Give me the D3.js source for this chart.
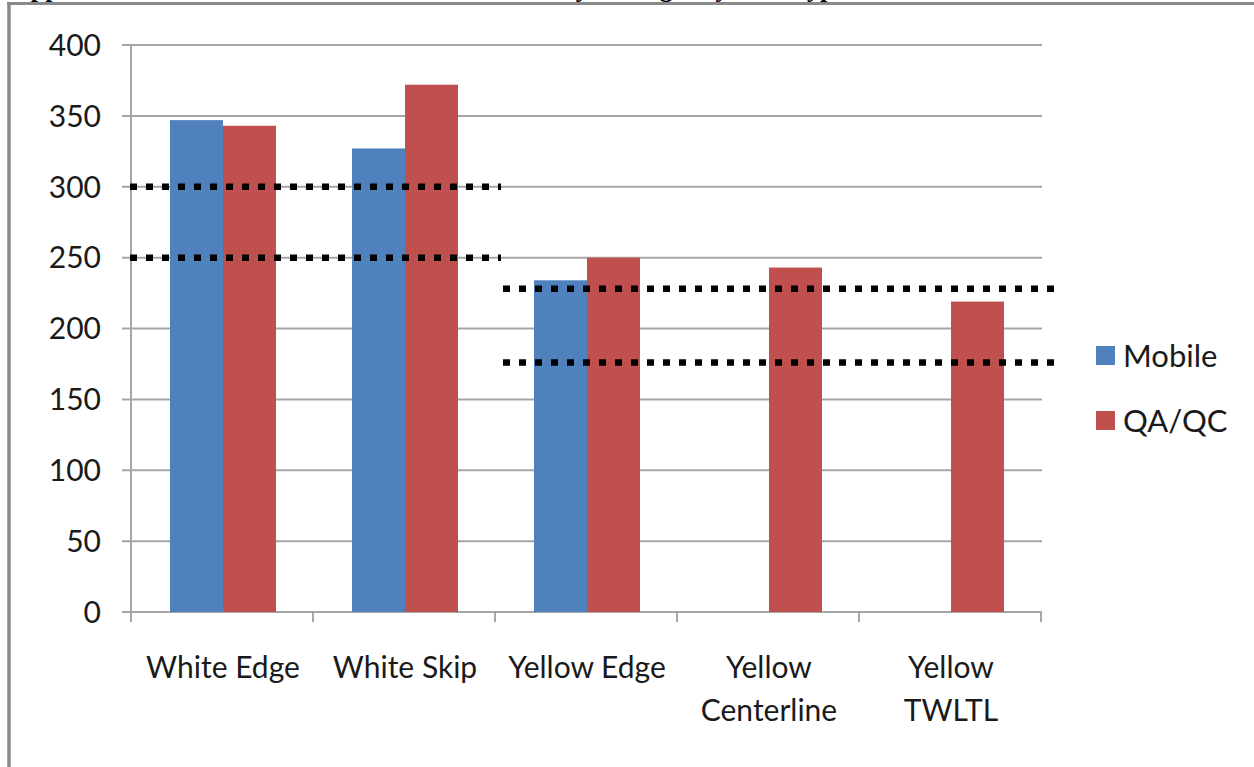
<!DOCTYPE html>
<html>
<head>
<meta charset="utf-8">
<script src="https://cdn.jsdelivr.net/npm/d3@7"></script>
<style>
html, body { margin: 0; padding: 0; background: #fff; overflow: hidden; }
svg { display: block; }
</style>
</head>
<body>
<svg id="chart" width="1254" height="767"></svg>
<script>
const categories = [["White Edge"], ["White Skip"], ["Yellow Edge"], ["Yellow", "Centerline"], ["Yellow", "TWLTL"]];
const categoryKeys = ["White Edge", "White Skip", "Yellow Edge", "Yellow Centerline", "Yellow TWLTL"];
const seriesNames = ["Mobile", "QA/QC"];
const mobileValues = [347, 327, 234, null, null];
const qaqcValues = [343, 372, 250, 243, 219];
const yTicks = [0, 50, 100, 150, 200, 250, 300, 350, 400];
const whiteThresholds = [300, 250];
const yellowThresholds = [228, 176];
const titleText = "Appendix B. Mobile and Handheld Retroreflectivity Averages by Line Type";

const colors = { "Mobile": "#4f81bd", "QA/QC": "#c0504d" };
const svg = d3.select("#chart");

// page frame / clipped heading
svg.append("text").attr("x", 12).attr("y", -3)
  .attr("font-family", "Liberation Serif").attr("font-weight", "bold").attr("font-size", 26)
  .attr("fill", "#000").text(titleText);
svg.append("line").attr("x1", 7).attr("x2", 1254).attr("y1", 3.5).attr("y2", 3.5)
  .attr("stroke", "#8a8a8a").attr("stroke-width", 3);
svg.append("line").attr("x1", 9).attr("x2", 9).attr("y1", 2).attr("y2", 767)
  .attr("stroke", "#8a8a8a").attr("stroke-width", 3.5);

const x = d3.scaleBand().domain(categoryKeys).range([131, 1041]).paddingInner(0).paddingOuter(0);
const y = d3.scaleLinear().domain([0, 400]).range([612, 45]);
const barW = 53;

// gridlines
svg.append("g").selectAll("line").data(yTicks).join("line")
  .attr("x1", 122).attr("x2", 1042)
  .attr("y1", d => y(d)).attr("y2", d => y(d))
  .attr("stroke", "#a6a6a6").attr("stroke-width", 2);

// y axis line
svg.append("line").attr("x1", 131).attr("x2", 131).attr("y1", y(400)).attr("y2", y(0))
  .attr("stroke", "#a6a6a6").attr("stroke-width", 2);

// category ticks
const tickXs = categoryKeys.map(k => x(k)).concat([x.range()[1]]);
svg.append("g").selectAll("line").data(tickXs).join("line")
  .attr("x1", d => d).attr("x2", d => d).attr("y1", y(0)).attr("y2", y(0) + 10)
  .attr("stroke", "#a6a6a6").attr("stroke-width", 2);

// y tick labels
svg.append("g").selectAll("text").data(yTicks).join("text")
  .attr("x", 101).attr("y", d => y(d)).attr("dy", "0.36em")
  .attr("text-anchor", "end")
  .attr("font-family", "Lato").attr("font-size", 30).attr("fill", "#1a1a1a")
  .text(d => d);

// bars
const barData = [];
categoryKeys.forEach((k, i) => {
  [mobileValues[i], qaqcValues[i]].forEach((v, j) => {
    if (v != null) barData.push({ cat: k, series: seriesNames[j], j, v });
  });
});
const groupStart = k => x(k) + x.bandwidth() / 2 - barW + 1;
svg.append("g").selectAll("rect").data(barData).join("rect")
  .attr("x", d => groupStart(d.cat) + d.j * barW)
  .attr("y", d => y(d.v))
  .attr("width", barW)
  .attr("height", d => y(0) - y(d.v))
  .attr("fill", d => colors[d.series]);

// category labels
const lab = svg.append("g");
categoryKeys.forEach((k, i) => {
  const cx = x(k) + x.bandwidth() / 2 + 1;
  const t = lab.append("text").attr("x", cx).attr("y", 678)
    .attr("text-anchor", "middle").attr("font-family", "Lato").attr("font-size", 30).attr("fill", "#1a1a1a");
  categories[i].forEach((line, li) => {
    t.append("tspan").attr("x", cx).attr("dy", li === 0 ? 0 : 43).text(line);
  });
});

// dotted threshold lines
const dotted = svg.append("g");
dotted.selectAll("line.w").data(whiteThresholds).join("line").attr("class", "w")
  .attr("x1", x("White Edge") - 1).attr("x2", x("White Skip") + x.bandwidth() + 6)
  .attr("y1", d => y(d)).attr("y2", d => y(d))
  .attr("stroke", "#000").attr("stroke-width", 6.5).attr("stroke-dasharray", "7 9");
dotted.selectAll("line.yl").data(yellowThresholds).join("line").attr("class", "yl")
  .attr("x1", x("Yellow Edge") + 8).attr("x2", x("Yellow TWLTL") + x.bandwidth() + 14)
  .attr("y1", d => y(d)).attr("y2", d => y(d))
  .attr("stroke", "#000").attr("stroke-width", 6.5).attr("stroke-dasharray", "7 9");

// legend
const leg = svg.append("g");
seriesNames.forEach((s, i) => {
  const ly = 356 + i * 65;
  leg.append("rect").attr("x", 1096).attr("y", ly - 10).attr("width", 19).attr("height", 19).attr("fill", colors[s]);
  leg.append("text").attr("x", 1123).attr("y", ly).attr("dy", "0.36em")
    .attr("font-family", "Lato").attr("font-size", 31).attr("fill", "#1a1a1a").text(s);
});
</script>
</body>
</html>
